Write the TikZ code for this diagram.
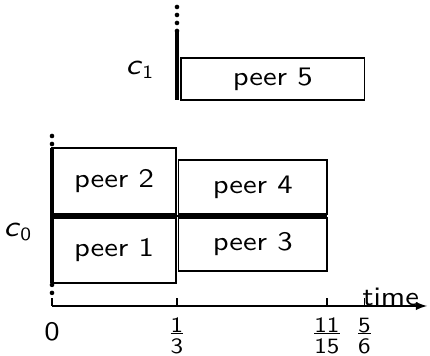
\documentclass[tikz,border=0pt]{standalone}
\usepackage{amsmath}
\usepackage{fontspec}
\setsansfont{lmsans10-regular.otf}[FakeStretch=1.15,ItalicFont=lmsans10-oblique.otf]
\renewcommand{\familydefault}{\sfdefault}
\usetikzlibrary{arrows,positioning}
\newcommand{\tickfrac}[2]{{\fontsize{9}{9}\selectfont\setlength{\arrayrulewidth}{0.6pt}%
\begin{tabular}{@{}c@{}}#1\\[-2.5pt]\hline\rule{0pt}{8pt}#2\end{tabular}}}

\begin{document}
\begin{tikzpicture}[x=5.4375cm,y=1cm,font=\fontsize{11}{13}\selectfont]
% box and line styles
\tikzstyle{peer}=[draw,line width=0.8pt,inner sep=0pt]
\tikzstyle{chan}=[line width=2pt]
\tikzstyle{more}=[line width=1.9pt,line cap=round,dash pattern=on 0pt off 3.3pt]
\tikzstyle{tickmark}=[line width=0.6pt]
\tikzstyle{frac}=[anchor=north,inner sep=0pt]

\useasboundingbox (-0.754cm,-0.725cm) rectangle (5.481cm,4.437cm);

% channel ends
\coordinate (c0-bot) at (0,0.334);
\coordinate (c0-top) at (0,2.291);
\coordinate (c0-up) at (0,2.465);
\coordinate (c0-down) at (0,0.19);
\coordinate (c1-bot) at (1/3,2.987);
\coordinate (c1-top) at (1/3,3.988);
\coordinate (c1-up) at (1/3,4.336);

% peers
\node[peer,minimum width=1.798cm,minimum height=0.946cm] (peer1) at (0.16535,0.807) {peer 1};
\node[peer,minimum width=1.798cm,minimum height=0.961cm] (peer2) at (0.16535,1.8105) {peer 2};
\node[peer,minimum width=2.153cm,minimum height=0.772cm] (peer3) at (0.5353,0.894) {peer 3};
\node[peer,minimum width=2.153cm,minimum height=0.787cm] (peer4) at (0.5353,1.7235) {peer 4};
\node[peer,minimum width=2.661cm,minimum height=0.609cm] (peer5) at (0.58867,3.2915) {peer 5};
\draw[line width=1.2pt] (0,1.305) -- (11/15,1.305);

% channels
\draw[chan] (c0-bot) -- (c0-top);
\draw[chan] (c1-bot) -- (c1-top);
\draw[more] (c0-up) -- (c0-top);
\draw[more] (c0-down) -- (c0-bot);
\draw[more] (c1-up) -- (c1-top);
\node (c0-lab) at (-0.0907,1.073) {\textit{\large c}$_{\text{0}}$};
\node (c1-lab) at (0.2347,3.422) {\textit{\large c}$_{\text{1}}$};

% time axis
\coordinate (t0) at (0,0);
\coordinate (t-end) at (1,0);
\draw[->,>=latex,line width=0.6pt] (t0) -- (t-end);
\node[above left=0pt and 0.11cm of t-end,inner sep=0pt] (t-lab) {time};
\node[anchor=north,inner sep=0pt] (tk-0) at (0,-0.232) {0};
\foreach \name/\x/\num/\den in {1/0.3333/1/3,2/0.7333/11/15,3/0.8333/5/6}
\node[frac] (tk-\name) at (\x,-0.15) {\tickfrac{\num}{\den}};
\foreach \x in {0,0.3333,0.7333,0.8333}
\draw[tickmark] (\x,0) -- (\x,0.116);
\end{tikzpicture}
\end{document}
